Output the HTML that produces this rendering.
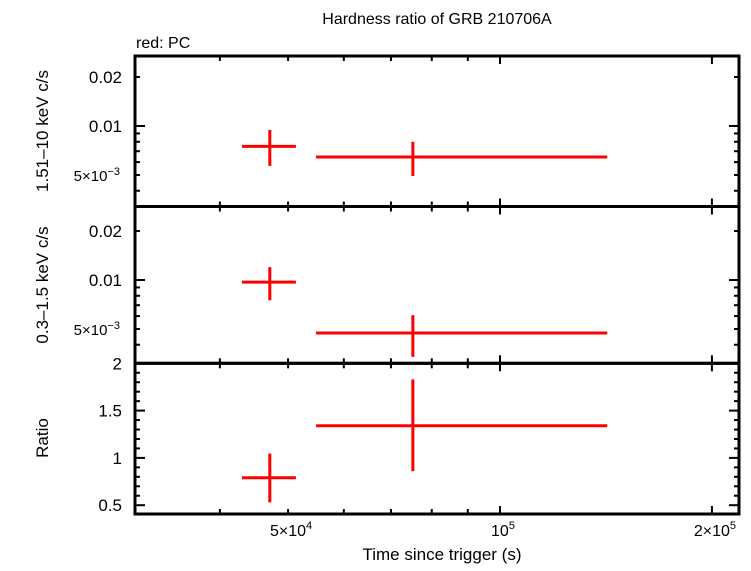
<!DOCTYPE html>
<html><head><meta charset="utf-8"><style>
body{margin:0;background:#fff}
svg text{font-family:"Liberation Sans",sans-serif;fill:#000}
</style></head><body>
<svg id="c" width="751" height="566" xmlns="http://www.w3.org/2000/svg">
<text x="437" y="24" font-size="16" text-anchor="middle">Hardness ratio of GRB 210706A</text>
<text x="136" y="48" font-size="16">red: PC</text>
<text x="442" y="560" font-size="17" text-anchor="middle">Time since trigger (s)</text>
<g id="g"></g>
</svg>
<script>
// data
const timeCenters=[47100,75200];
const timeLo=[43000,54800];
const timeHi=[51300,142000];
const hardVals=[0.0075,0.00645];
const hardLo=[0.00568,0.00493];
const hardHi=[0.00945,0.0080];
const softVals=[0.0097,0.00472];
const softLo=[0.0075,0.00337];
const softHi=[0.0120,0.00608];
const ratioVals=[0.79,1.34];
const ratioLo=[0.53,0.86];
const ratioHi=[1.046,1.83];
const xTickBase=["5×10","10","2×10"];
const xTickExp=["4","5","5"];
const xTickVals=[5e4,1e5,2e5];

const L=135,R=739,XPD=704;
const X=v=>500+(Math.log10(v)-5)*XPD;
const panels=[
 {top:56,bot:206.5,type:'log',ref:126,name:'hard'},
 {top:206.5,bot:363.3,type:'log',ref:280,name:'soft'},
 {top:363.3,bot:514,type:'lin',name:'ratio'}
];
const DPD=162.7;
const Ylog=p=>v=>p.ref-(Math.log10(v)+2)*DPD;
const Ylin=v=>363.3+(2-v)*94.6;
const g=document.getElementById('g');
const NS='http://www.w3.org/2000/svg';
function mk(t,a,name){const e=document.createElementNS(NS,t);for(const k in a)e.setAttribute(k,a[k]);


g.appendChild(e);return e;}
function line(x1,y1,x2,y2,name,col,w){return mk('line',{x1,y1,x2,y2,stroke:col||'#000','stroke-width':w||2},name);}
function txt(x,y,s,name,anchor,size){const t=mk('text',{x,y,'font-size':size||16,'text-anchor':anchor||'end'},name);t.textContent=s;return t;}
function sup(t,s){const e=document.createElementNS(NS,'tspan');e.setAttribute('dy','-7');e.setAttribute('font-size','11');e.textContent=s;t.appendChild(e);}

// x ticks
const xMinor=[];for(let v=4e4;v<=2e5;v+=1e4){if(v<1e5||v%1e5===0)xMinor.push(v);}
panels.forEach(p=>{
  xMinor.forEach(v=>{const x=X(v);const len=(v===1e5||v===2e5)?8:5;
   line(x,p.top,x,p.top+len,'x-tick');line(x,p.bot,x,p.bot-len,'x-tick');});
});
xTickVals.forEach((v,i)=>{const t=txt(X(v)+3,536,xTickBase[i],'x-tick-label','middle',16);sup(t,xTickExp[i]);});

// y ticks
function logTicks(p,labels){
  const Y=Ylog(p);
  for(const base of [0.001,0.01]){for(let m=1;m<10;m++){const v=base*m;const y=Y(v);if(y<p.top+1||y>p.bot-1)continue;
   const len=(m===1)?10:5;line(L,y,L+len,y,'y-tick');line(R,y,R-len,y,'y-tick');}}
  labels.forEach(([v,s])=>{const y=Y(v);if(y>p.top&&y<p.bot)txt(122,y+6,s,'y-tick-label','end',17);});
}
logTicks(panels[0],[[0.02,'0.02'],[0.01,'0.01']]);
logTicks(panels[1],[[0.02,'0.02'],[0.01,'0.01']]);
[panels[0],panels[1]].forEach(p=>{const y=Ylog(p)(0.005);const t=txt(120,y+6,'5×10','y-tick-label','end',15);
 const s=document.createElementNS(NS,'tspan');s.setAttribute('dy','-6');s.setAttribute('font-size','11');s.textContent='−3';t.appendChild(s);});
for(let v=0.5;v<=2.001;v+=0.1){const y=Ylin(v);const major=Math.abs(v*2-Math.round(v*2))<1e-6;const len=major?10:5;
 if(y<panels[2].top+1)continue;line(L,y,L+len,y,'y-tick');line(R,y,R-len,y,'y-tick');}
[[2,'2'],[1.5,'1.5'],[1,'1'],[0.5,'0.5']].forEach(([v,s])=>txt(122,Ylin(v)+6,s,'y-tick-label','end',17));

// frames
panels.forEach(p=>mk('rect',{x:L,y:p.top,width:R-L,height:p.bot-p.top,fill:'none',stroke:'#000','stroke-width':3},p.name+'-panel-frame'));

// y titles
[['1.51–10 keV c/s',131],['0.3–1.5 keV c/s',285],['Ratio',438]].forEach(([s,y])=>{const t=mk('text',{x:0,y:0,'font-size':17,'text-anchor':'middle',transform:`translate(48,${y}) rotate(-90)`},'y-axis-title');t.textContent=s;});

// series
function series(vals,lo,hi,Y,name){
 vals.forEach((v,i)=>{const y=Y(v),xc=X(timeCenters[i]);
  line(X(timeLo[i]),y,X(timeHi[i]),y,name+'-xerr','#f00',3);
  line(xc,Y(lo[i]),xc,Y(hi[i]),name+'-yerr','#f00',3);});
}
series(hardVals,hardLo,hardHi,Ylog(panels[0]),'hard-point');
series(softVals,softLo,softHi,Ylog(panels[1]),'soft-point');
series(ratioVals,ratioLo,ratioHi,Ylin,'ratio-point');
</script>
</body></html>
